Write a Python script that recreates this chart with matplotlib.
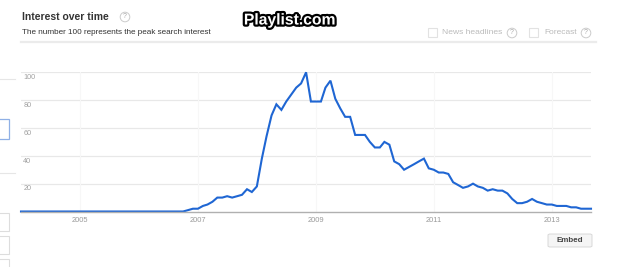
import numpy as np
import pandas as pd
import matplotlib
matplotlib.use('Agg')
import matplotlib.pyplot as plt
import matplotlib.patches as mpatches
import matplotlib.patheffects as pe

# monthly search interest, Jan 2004 .. Sep 2013
months = pd.date_range('2004-01-01', periods=117, freq='MS')
interest = [0, 0, 0, 0, 0, 0, 0, 0, 0, 0, 0, 0,
            0, 0, 0, 0, 0, 0, 0, 0, 0, 0, 0, 0,
            0, 0, 0, 0, 0, 0, 0, 0, 0, 0, 1, 2,
            2, 4, 5, 7, 10, 10, 11, 10, 11, 12, 16, 14,
            18, 38, 54, 69, 77, 73, 79, 84, 89, 92, 100, 79,
            79, 79, 89, 94, 81, 74, 68, 68, 55, 55, 55, 50,
            46, 46, 50, 48, 36, 34, 30, 32, 34, 36, 38, 31,
            30, 28, 28, 27, 21, 19, 17, 18, 20, 18, 17, 15,
            16, 15, 15, 13, 9, 6, 6, 7, 9, 7, 6, 5,
            5, 4, 4, 4, 3, 3, 2, 2, 2]
y_ticks = [20, 40, 60, 80, 100]
year_ticks = ['2005', '2007', '2009', '2011', '2013']

W, H = 620, 267
fig = plt.figure(figsize=(W / 100, H / 100), dpi=100)
fig.patch.set_facecolor('white')
plt.rcParams['font.family'] = ['Liberation Sans', 'DejaVu Sans']


def fx(x):
    return x / W


def fy(y):
    return 1 - y / H


def rect(x0, y0, x1, y1, fc='none', ec='#dddddd', lw=0.8):
    fig.add_artist(mpatches.Rectangle((fx(x0), fy(y1)), fx(x1) - fx(x0), fy(y0) - fy(y1),
                                      transform=fig.transFigure, fc=fc, ec=ec, lw=lw))


def help_icon(x, y, r=4.8):
    fig.add_artist(mpatches.Ellipse((fx(x), fy(y)), 2 * r / W, 2 * r / H, transform=fig.transFigure,
                                    fc='white', ec='#cccccc', lw=0.7))
    fig.text(fx(x), fy(y), '?', fontsize=5, color='#aaaaaa', ha='center', va='center')


# header
fig.text(fx(21.5), fy(17), 'Interest over time', fontsize=7.5, fontweight='bold',
         color='#333333', va='center')
help_icon(125, 17)
fig.text(fx(21.5), fy(33), 'The number 100 represents the peak search interest',
         fontsize=5.9, color='#333333', va='center')
fig.add_artist(plt.Line2D([fx(21), fx(596)], [fy(42), fy(42)], transform=fig.transFigure,
                          color='#ebebeb', lw=1.6))
t = fig.text(fx(290), fy(20), 'Playlist.com', fontsize=11.3, fontweight='bold', color='white',
             ha='center', va='center')
t.set_path_effects([pe.Stroke(linewidth=3.2, foreground='black'), pe.Normal()])

rect(428, 28, 437, 37, ec='#e2e2e2')
fig.text(fx(442), fy(33), 'News headlines', fontsize=6.1, color='#bbbbbb', va='center')
help_icon(512, 33)
rect(529, 28, 538, 37, ec='#e2e2e2')
fig.text(fx(544), fy(33), 'Forecast', fontsize=6.0, color='#bbbbbb', va='center')
help_icon(586, 33)

# cropped page widgets on the left edge
fig.add_artist(plt.Line2D([0, fx(15)], [fy(79), fy(79)], transform=fig.transFigure,
                          color='#e6e6e6', lw=0.8))
rect(-2, 119, 9, 139, ec='#8fb0e6', lw=0.9)
fig.add_artist(plt.Line2D([0, fx(15)], [fy(173), fy(173)], transform=fig.transFigure,
                          color='#e6e6e6', lw=0.8))
rect(-2, 213, 9, 231)
rect(-2, 236, 9, 254)
rect(-2, 259, 9, 275)

# chart
ax = fig.add_axes([fx(21), fy(211.5), fx(591) - fx(21), fy(72.3) - fy(211.5)])
ax.set_xlim(months[0], months[-1])
ax.set_ylim(0, 100)
for s in ['top', 'left', 'right']:
    ax.spines[s].set_visible(False)
ax.spines['bottom'].set_color('#b0b0b0')
ax.spines['bottom'].set_linewidth(1.0)

for v in y_ticks:
    ax.axhline(v, color='#e8e8e8', lw=0.9, zorder=0)
    ax.text(0.004, v - 3.8, str(v), transform=ax.get_yaxis_transform(), fontsize=5.2,
            color='#a0a0a0', va='center', ha='left')
ax.set_yticks([])

year_dates = [pd.Timestamp(y + '-01-01') for y in year_ticks]
for d in year_dates:
    ax.axvline(d, color='#f7f7f7', lw=0.8, zorder=0)
ax.set_xticks(year_dates)
ax.set_xticklabels(year_ticks, fontsize=5.4, color='#999999')
ax.tick_params(axis='x', length=0, pad=4)

ax.plot(months, interest, color='#1f66d3', lw=1.5, clip_on=False, solid_joinstyle='miter')

# embed button
fig.add_artist(mpatches.FancyBboxPatch((fx(548), fy(247)), fx(592) - fx(548), fy(234) - fy(247),
                                       boxstyle='round,pad=0,rounding_size=0.004',
                                       transform=fig.transFigure, fc='#f5f5f5', ec='#d8d8d8', lw=0.7))
fig.text(fx(570), fy(240.5), 'Embed', fontsize=5.8, fontweight='bold', color='#444444',
         ha='center', va='center')

fig.savefig('out.png', dpi=100)
